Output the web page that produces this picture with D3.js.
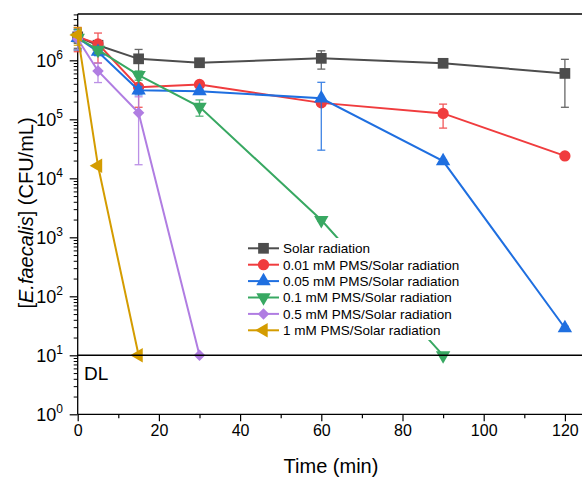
<!DOCTYPE html>
<html><head><meta charset="utf-8">
<script src="https://cdn.jsdelivr.net/npm/d3@7"></script>
<style>body{margin:0;background:#fff}svg{display:block;font-family:"Liberation Sans",Arial,sans-serif}</style>
</head><body>
<svg id="c" width="582" height="478"></svg>
<script>
const times = [0, 5, 15, 30, 60, 90, 120];
const seriesNames = ["Solar radiation","0.01 mM PMS/Solar radiation","0.05 mM PMS/Solar radiation","0.1 mM PMS/Solar radiation","0.5 mM PMS/Solar radiation","1 mM PMS/Solar radiation"];
const colors = ["#4d4d4d","#f03c3e","#1f6fe0","#38a862","#b07de2","#d49c00"];
const symbolsKind = ["square","circle","up","down","diamond","left"];
const solarVals   = [2.5e6, 1.8e6, 1.06e6, 9.1e5, 1.08e6, 8.9e5, 6.0e5];
const solarErr    = [0.9e6, 0.3e6, 0.47e6, 0.08e6, 0.37e6, 0.05e6, 0.44e6];
const pms001Vals  = [2.5e6, 1.9e6, 3.5e5, 3.9e5, 1.9e5, 1.26e5, 2.4e4];
const pms001Err   = [1.1e6, 1.0e6, 1.9e5, 0.3e5, 0.2e5, 5.5e4, 0.1e4];
const pms005Vals  = [2.4e6, 1.4e6, 3.1e5, 3.0e5, 2.27e5, 1.96e4, 29];
const pms005Err   = [0.9e6, 0.2e6, 0.5e5, 0.2e5, 1.97e5, 0.1e4, 2];
const pms01Vals   = [2.4e6, 1.5e6, 5.6e5, 1.63e5, 1.96e3, 10, null];
const pms01Err    = [0.9e6, 0.2e6, 1.0e5, 0.5e5, 0.1e3, 0, null];
const pms05Vals   = [2.3e6, 6.6e5, 1.29e5, 10, null, null, null];
const pms05Err    = [0.8e6, 2.4e5, 1.12e5, 0, null, null, null];
const pms1Vals    = [2.7e6, 1.63e4, 10, null, null, null, null];
const pms1Err     = [0.9e6, 0.1e4, 0, null, null, null, null];
const detectionLimit = 10;
const xTicks = [0, 20, 40, 60, 80, 100, 120];
const xMinorTicks = [10, 30, 50, 70, 90, 110];
const yTickExps = [0, 1, 2, 3, 4, 5, 6];

const allVals = [solarVals, pms001Vals, pms005Vals, pms01Vals, pms05Vals, pms1Vals];
const allErr = [solarErr, pms001Err, pms005Err, pms01Err, pms05Err, pms1Err];

const svg = d3.select("#c");
const x = d3.scaleLinear().domain([0, 125]).range([77.7, 585.2]);
const y = d3.scaleLog().domain([1, 6.1e6]).range([414.3, 14]);

// frame
svg.append("line").attr("x1", x(0)).attr("x2", 582).attr("y1", 14).attr("y2", 14).attr("stroke", "#000").attr("stroke-width", 1.3);

// x axis
const xAxis = svg.append("g").attr("transform", `translate(0,${y(1)})`)
  .call(d3.axisBottom(x).tickValues(xTicks).tickSize(7).tickPadding(3).tickFormat(d3.format("d")));
xAxis.select(".domain").attr("d", `M${x(0)},0H582`).attr("stroke-width", 1.3);
xAxis.selectAll(".tick line").attr("stroke-width", 1.2);
xAxis.selectAll("text").attr("font-size", 16).attr("font-family", "Liberation Sans, Arial").attr("fill", "#000");
svg.append("g").attr("transform", `translate(0,${y(1)})`)
  .call(d3.axisBottom(x).tickValues(xMinorTicks).tickSize(4).tickFormat(""))
  .call(g => g.select(".domain").remove())
  .selectAll("line").attr("stroke-width", 1.2);

// y axis
const yAxis = svg.append("g").attr("transform", `translate(${x(0)},0)`)
  .call(d3.axisLeft(y).tickValues(yTickExps.map(e => Math.pow(10, e))).tickSize(8).tickFormat(""));
yAxis.select(".domain").attr("d", `M0,${y(1)}V14`).attr("stroke-width", 1.3);
yAxis.selectAll(".tick line").attr("stroke-width", 1.2);
const minor = [];
for (let e = 0; e <= 6; e++) for (let m = 2; m <= 9; m++) { const v = m * Math.pow(10, e); if (v <= 6.1e6) minor.push(v); }
svg.append("g").attr("transform", `translate(${x(0)},0)`)
  .call(d3.axisLeft(y).tickValues(minor).tickSize(4).tickFormat(""))
  .call(g => g.select(".domain").remove())
  .selectAll("line").attr("stroke-width", 1);
yTickExps.forEach(e => {
  const t = svg.append("text").attr("x", 63).attr("y", y(Math.pow(10, e)) + 6.5)
    .attr("text-anchor", "end").attr("font-size", 18).attr("fill", "#000");
  t.append("tspan").text("10");
  t.append("tspan").attr("font-size", 12).attr("dy", -7.5).text(String(e));
});

// axis titles
svg.append("text").attr("x", 331).attr("y", 473).attr("text-anchor", "middle").attr("font-size", 20).text("Time (min)");
const yl = svg.append("text").attr("transform", "translate(33,213) rotate(-90)").attr("text-anchor", "middle").attr("font-size", 20);
yl.append("tspan").text("[");
yl.append("tspan").attr("font-style", "italic").text("E.faecalis");
yl.append("tspan").text("] (CFU/mL)");

function sym(kind) {
  switch (kind) {
    case "square": return d3.symbol(d3.symbolSquare, 115)();
    case "circle": return d3.symbol(d3.symbolCircle, 100)();
    case "diamond": return d3.symbol(d3.symbolSquare, 66)();
    default: return d3.symbol(d3.symbolTriangle, 90)();
  }
}
function rot(kind) { return kind === "down" ? 180 : kind === "left" ? -90 : kind === "diamond" ? 45 : 0; }

const line = d3.line().defined(d => d.v != null).x(d => x(d.t)).y(d => y(d.v));

allVals.forEach((vals, i) => {
  const pts = times.map((t, j) => ({ t, v: vals[j], e: allErr[i][j] })).filter(d => d.v != null);
  const g = svg.append("g");
  g.append("path").datum(pts).attr("d", line).attr("fill", "none").attr("stroke", colors[i]).attr("stroke-width", 2);
  pts.filter(d => d.e > 0).forEach(d => {
    const top = y(d.v + d.e), bot = y(Math.max(d.v - d.e, 1.001));
    const eg = g.append("g").attr("stroke", colors[i]).attr("stroke-width", 1.3).attr("opacity", 0.85);
    eg.append("line").attr("x1", x(d.t)).attr("x2", x(d.t)).attr("y1", top).attr("y2", bot);
    eg.append("line").attr("x1", x(d.t) - 4).attr("x2", x(d.t) + 4).attr("y1", top).attr("y2", top);
    eg.append("line").attr("x1", x(d.t) - 4).attr("x2", x(d.t) + 4).attr("y1", bot).attr("y2", bot);
  });
  g.selectAll("path.m").data(pts).join("path").attr("class", "m")
    .attr("d", sym(symbolsKind[i]))
    .attr("transform", d => `translate(${x(d.t)},${y(d.v)}) rotate(${rot(symbolsKind[i])})`)
    .attr("fill", colors[i]);
});

// detection limit
svg.append("line").attr("x1", x(0)).attr("x2", 582).attr("y1", y(detectionLimit)).attr("y2", y(detectionLimit)).attr("stroke", "#000").attr("stroke-width", 1.5);
svg.append("text").attr("x", 84).attr("y", 380).attr("font-size", 19).text("DL");

// legend
const lg = svg.append("g");
lg.append("rect").attr("x", 244).attr("y", 238).attr("width", 228).attr("height", 102).attr("fill", "#fff");
seriesNames.forEach((n, i) => {
  const yy = 248.3 + i * 16.4;
  lg.append("line").attr("x1", 248).attr("x2", 279).attr("y1", yy).attr("y2", yy).attr("stroke", colors[i]).attr("stroke-width", 2);
  lg.append("path").attr("d", sym(symbolsKind[i])).attr("transform", `translate(263.5,${yy}) rotate(${rot(symbolsKind[i])})`).attr("fill", colors[i]);
  lg.append("text").attr("x", 283).attr("y", yy + 4.8).attr("font-size", 13.5).text(n);
});
</script>
</body></html>
